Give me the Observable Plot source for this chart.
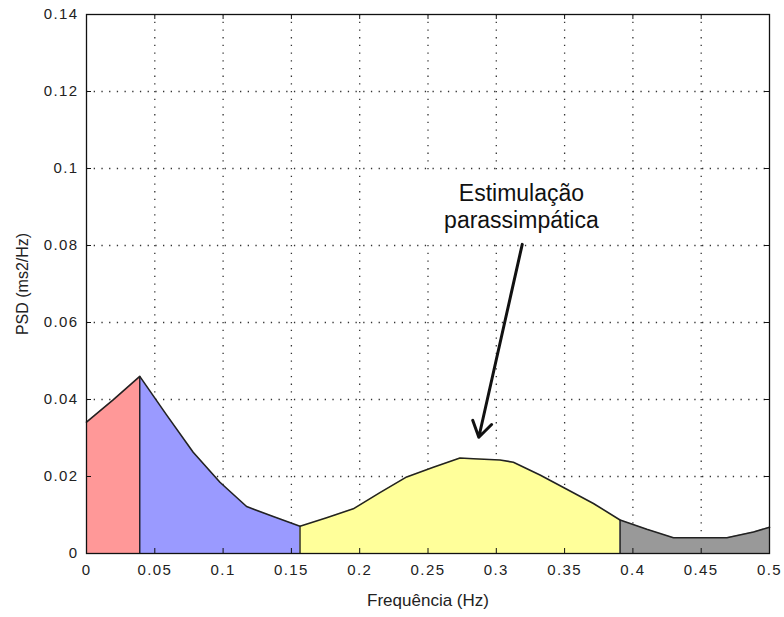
<!DOCTYPE html>
<html>
<head>
<meta charset="utf-8">
<script src="https://cdn.jsdelivr.net/npm/d3@7"></script>
<script src="https://cdn.jsdelivr.net/npm/@observablehq/plot@0.6"></script>
<style>
  html, body { margin: 0; padding: 0; background: #fff; }
</style>
</head>
<body>
<div id="chart"></div>
<script>
// Power spectral density of heart-rate variability (Hz vs ms²/Hz)
const freq = [0, 0.0195, 0.039, 0.0586, 0.0781, 0.0977, 0.1172, 0.1367, 0.1563,
  0.1758, 0.1953, 0.2148, 0.2344, 0.2539, 0.2734, 0.2832, 0.3027, 0.3125,
  0.332, 0.3516, 0.3711, 0.3906, 0.4102, 0.4297, 0.4492, 0.4688, 0.4883, 0.5];
const psd = [0.0341, 0.0399, 0.0460, 0.0360, 0.0263, 0.0185, 0.0122, 0.0096, 0.0071,
  0.0093, 0.0116, 0.0158, 0.0199, 0.0224, 0.0248, 0.0246, 0.0243, 0.0237,
  0.0204, 0.0167, 0.0130, 0.0087, 0.0063, 0.0041, 0.0041, 0.0041, 0.0056, 0.0068];

// Band limits (VLF, LF, HF, above HF) and their fills
const bandEdges = [0, 0.039, 0.1563, 0.3906, 0.5];
const bandColors = ["#ff9898", "#9a9aff", "#ffff9a", "#999999"];

const xTicks = [0, 0.05, 0.1, 0.15, 0.2, 0.25, 0.3, 0.35, 0.4, 0.45, 0.5];
const yTicks = [0, 0.02, 0.04, 0.06, 0.08, 0.1, 0.12, 0.14];

const xLabel = "Frequência (Hz)";
const yLabel = "PSD (ms2/Hz)";

// Callout: text, its box and the arrow pointing at the HF hump
const calloutText = ["Estimulação", "parassimpática"];
const calloutAt = [0.3184, 0.0903];
const calloutBox = [0.2465, 0.3985, 0.0807, 0.0993];
const calloutArrow = [0.319, 0.0803, 0.2872, 0.0302];

const rows = freq.map((f, i) => ({f, p: psd[i]}));
const eps = 1e-9;
const bandRows = bandColors.map((c, i) =>
  rows.filter(r => r.f >= bandEdges[i] - eps && r.f <= bandEdges[i + 1] + eps));
const innerEdges = bandEdges.slice(1, -1).map(e => {
  const k = freq.findIndex(f => Math.abs(f - e) < 1e-6);
  return {f: e, p: psd[k]};
});

const xDomain = [0, 0.5];
const yDomain = [0, 0.14];
const tickLenY = (yDomain[1] - yDomain[0]) * 5 / 539;
const tickLenX = (xDomain[1] - xDomain[0]) * 5 / 683;
const fmt = d => String(+d.toFixed(3));
const dots = "1.3,6.4";

const chart = Plot.plot({
  width: 784,
  height: 617,
  marginLeft: 86,
  marginRight: 15,
  marginTop: 14,
  marginBottom: 64,
  style: {fontFamily: "'Liberation Sans', Arial, sans-serif", fontSize: "15px", color: "#222", background: "#fff"},
  x: {domain: xDomain, ticks: xTicks, tickFormat: fmt, tickSize: 0, tickPadding: 11, label: null},
  y: {domain: yDomain, ticks: yTicks, tickFormat: fmt, tickSize: 0, tickPadding: 8, label: null},
  marks: [
    // dotted grid
    Plot.ruleX(xTicks.slice(1, -1), {x: d => d, stroke: "#333", strokeWidth: 1.3, strokeDasharray: dots}),
    Plot.ruleY(yTicks.slice(1, -1), {y: d => d, stroke: "#333", strokeWidth: 1.3, strokeDasharray: dots}),
    // band areas
    ...bandRows.map((data, i) =>
      Plot.areaY(data, {x: "f", y: "p", fill: bandColors[i], fillOpacity: 1})),
    // band separators
    Plot.ruleX(innerEdges, {x: "f", y1: 0, y2: "p", stroke: "#111", strokeWidth: 1.3}),
    // spectrum outline
    Plot.line(rows, {x: "f", y: "p", stroke: "#222", strokeWidth: 1.6}),
    // inward ticks on all four sides
    Plot.ruleX(xTicks, {x: d => d, y1: yDomain[0], y2: yDomain[0] + tickLenY, stroke: "#111"}),
    Plot.ruleX(xTicks, {x: d => d, y1: yDomain[1], y2: yDomain[1] - tickLenY, stroke: "#111"}),
    Plot.ruleY(yTicks, {y: d => d, x1: xDomain[0], x2: xDomain[0] + tickLenX, stroke: "#111"}),
    Plot.ruleY(yTicks, {y: d => d, x1: xDomain[1], x2: xDomain[1] - tickLenX, stroke: "#111"}),
    Plot.frame({stroke: "#111", strokeWidth: 1.3}),
    // callout
    Plot.rect([calloutBox], {x1: d => d[0], x2: d => d[1], y1: d => d[2], y2: d => d[3], fill: "white"}),
    Plot.text([calloutText.join("\n")], {
      x: calloutAt[0], y: calloutAt[1], text: d => d, fontSize: 23, lineHeight: 1.17,
      fill: "#111", textAnchor: "middle", lineAnchor: "middle"
    }),
    Plot.arrow([calloutArrow], {
      x1: d => d[0], y1: d => d[1], x2: d => d[2], y2: d => d[3],
      stroke: "#111", strokeWidth: 3, headLength: 9, headAngle: 65
    }),
    // axis titles
    Plot.text([xLabel], {frameAnchor: "bottom", text: d => d, dy: 52, fontSize: 17, fill: "#222"}),
    Plot.text([yLabel], {frameAnchor: "left", text: d => d, textAnchor: "middle", dx: -64, rotate: -90, fontSize: 16, fill: "#222"})
  ]
});

chart.querySelectorAll("g[aria-label='x-axis tick label'] text, g[aria-label='y-axis tick label'] text, g[aria-label='x-axis'] text, g[aria-label='y-axis'] text")
  .forEach(t => t.setAttribute("letter-spacing", "1.4"));

document.getElementById("chart").appendChild(chart);
</script>
</body>
</html>
